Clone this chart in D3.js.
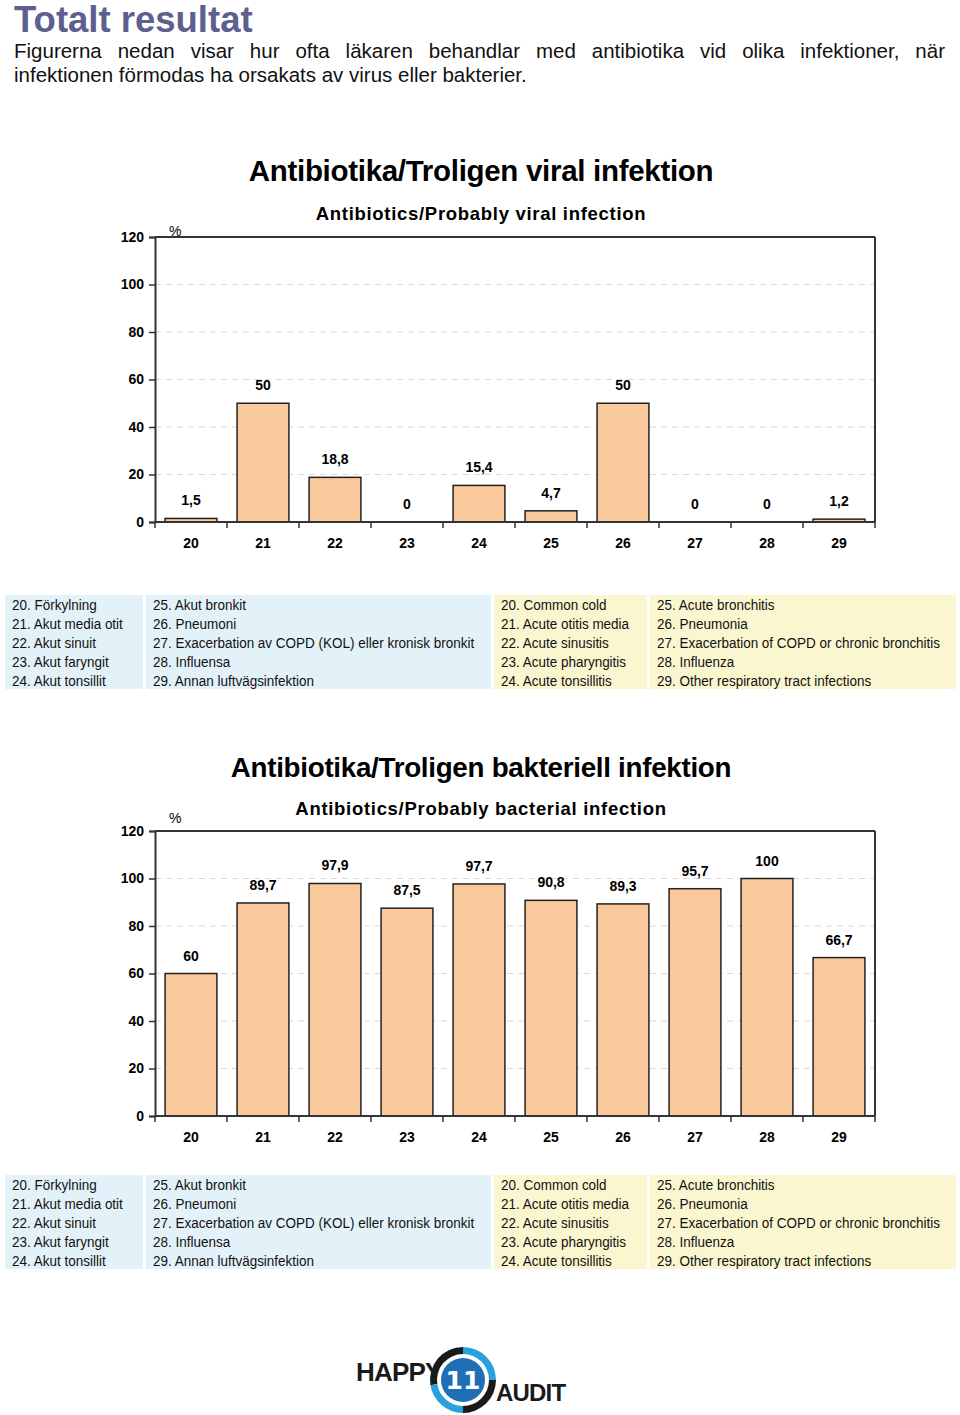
<!DOCTYPE html>
<html><head><meta charset="utf-8">
<script src="https://cdn.jsdelivr.net/npm/d3@7"></script>
<style>
body{margin:0;background:#fff;}
svg{display:block;}
</style></head>
<body>
<script>
const categories = ["20","21","22","23","24","25","26","27","28","29"];
const viralValues = [1.5, 50, 18.8, 0, 15.4, 4.7, 50, 0, 0, 1.2];
const bacterialValues = [60, 89.7, 97.9, 87.5, 97.7, 90.8, 89.3, 95.7, 100, 66.7];
const yTicks = [0, 20, 40, 60, 80, 100, 120];
const legendSv1 = ["20. Förkylning","21. Akut media otit","22. Akut sinuit","23. Akut faryngit","24. Akut tonsillit"];
const legendSv2 = ["25. Akut bronkit","26. Pneumoni","27. Exacerbation av COPD (KOL) eller kronisk bronkit","28. Influensa","29. Annan luftvägsinfektion"];
const legendEn1 = ["20. Common cold","21. Acute otitis media","22. Acute sinusitis","23. Acute pharyngitis","24. Acute tonsillitis"];
const legendEn2 = ["25. Acute bronchitis","26. Pneumonia","27. Exacerbation of COPD or chronic bronchitis","28. Influenza","29. Other respiratory tract infections"];

const W = 960, H = 1415;
const svg = d3.select("body").append("svg").attr("width", W).attr("height", H);
const fmt = v => String(v).replace(".", ",");
const FONT = "Liberation Sans, Arial, sans-serif";

// Header
svg.append("text").attr("x", 14).attr("y", 32).text("Totalt resultat")
  .attr("font-family", FONT).attr("font-weight", "bold")
  .attr("font-size", 36.5).attr("fill", "#5d5f8e");
const line1 = svg.append("text").attr("x", 14).attr("y", 58).attr("font-family", FONT)
  .attr("font-size", 20.5).attr("fill", "#111")
  .text("Figurerna nedan visar hur ofta läkaren behandlar med antibiotika vid olika infektioner, när");
{
  const natural = line1.node().getComputedTextLength();
  const nSpaces = line1.text().split(" ").length - 1;
  line1.attr("word-spacing", (931 - natural) / nSpaces);
}
svg.append("text").attr("x", 14).attr("y", 82).attr("font-family", FONT)
  .attr("font-size", 20.5).attr("fill", "#111")
  .text("infektionen förmodas ha orsakats av virus eller bakterier.");

function drawChart(cfg) {
  const left = 155, right = 875, top = cfg.top, bottom = cfg.top + 285;
  const x = d3.scaleBand().domain(categories).range([left, right]).paddingInner(0.28).paddingOuter(0.14);
  const xb = d3.scaleBand().domain(categories).range([left, right]);
  const y = d3.scaleLinear().domain([0, 120]).range([bottom, top]);
  const g = svg.append("g");

  g.append("text").attr("x", 481).attr("y", cfg.titleY).attr("text-anchor", "middle")
    .attr("font-family", FONT).attr("font-weight", "bold")
    .attr("font-size", cfg.titleSize).attr("fill", "#000").attr("letter-spacing", -0.3).text(cfg.title);
  g.append("text").attr("x", 481).attr("y", cfg.subY).attr("text-anchor", "middle")
    .attr("font-family", FONT).attr("font-weight", "bold")
    .attr("font-size", 18.5).attr("fill", "#000").attr("letter-spacing", 0.7).text(cfg.sub);

  // gridlines
  g.selectAll("line.grid").data(yTicks.filter(t => t > 0 && t < 120)).join("line")
    .attr("x1", left).attr("x2", right).attr("y1", d => y(d)).attr("y2", d => y(d))
    .attr("stroke", "#d8d8d8").attr("stroke-width", 1).attr("stroke-dasharray", "6,5");

  // frame top and right
  g.append("line").attr("x1", left).attr("x2", right).attr("y1", top).attr("y2", top)
    .attr("stroke", "#333").attr("stroke-width", 2);
  g.append("line").attr("x1", right).attr("x2", right).attr("y1", top).attr("y2", bottom)
    .attr("stroke", "#333").attr("stroke-width", 2);

  // bars
  g.selectAll("rect.bar").data(cfg.values).join("rect")
    .attr("x", (d, i) => x(categories[i])).attr("width", x.bandwidth())
    .attr("y", d => y(d)).attr("height", d => bottom - y(d))
    .attr("fill", "#f9c99c").attr("stroke", "#222").attr("stroke-width", 1.5);

  // value labels
  g.selectAll("text.val").data(cfg.values).join("text")
    .attr("x", (d, i) => xb(categories[i]) + xb.bandwidth() / 2)
    .attr("y", d => y(d) - 13).attr("text-anchor", "middle")
    .attr("font-family", FONT).attr("font-weight", "bold")
    .attr("font-size", 14).text(d => fmt(d));

  // y axis
  const ya = g.append("g").attr("transform", `translate(${left},0)`)
    .call(d3.axisLeft(y).tickValues(yTicks).tickSize(6).tickPadding(5));
  ya.select(".domain").attr("stroke", "#333").attr("stroke-width", 2);
  ya.selectAll(".tick line").attr("stroke", "#333").attr("stroke-width", 1.5);
  ya.selectAll(".tick text").attr("font-family", FONT)
    .attr("font-weight", "bold").attr("font-size", 14).attr("fill", "#000");

  // x axis
  const xa = g.append("g").attr("transform", `translate(0,${bottom})`)
    .call(d3.axisBottom(xb).tickSize(0).tickPadding(16));
  xa.select(".domain").attr("stroke", "#333").attr("stroke-width", 2)
    .attr("d", `M${left},0H${right}`);
  xa.selectAll(".tick text").attr("font-family", FONT)
    .attr("font-weight", "bold").attr("font-size", 14).attr("fill", "#000");
  const bounds = categories.map(c => xb(c)).concat([right]);
  xa.selectAll("line.bt").data(bounds).join("line")
    .attr("x1", d => d).attr("x2", d => d).attr("y1", 0).attr("y2", 6)
    .attr("stroke", "#333").attr("stroke-width", 1.5);

  g.append("text").attr("x", 169).attr("y", cfg.pctY).text("%")
    .attr("font-family", FONT).attr("font-size", 14).attr("fill", "#000");

  // legend
  const ly = cfg.legendY;
  const panels = [
    {x: 5, w: 138, fill: "#e3f1f8", items: legendSv1},
    {x: 146, w: 345, fill: "#e3f1f8", items: legendSv2},
    {x: 494, w: 153, fill: "#faf6cf", items: legendEn1},
    {x: 650, w: 306, fill: "#faf6cf", items: legendEn2}
  ];
  panels.forEach(p => {
    g.append("rect").attr("x", p.x).attr("y", ly).attr("width", p.w).attr("height", 94).attr("fill", p.fill);
    const tg = g.append("g").attr("transform", `translate(${p.x + 7},0) scale(0.87,1)`);
    tg.selectAll(null).data(p.items).join("text")
      .attr("x", 0).attr("y", (d, i) => ly + 15 + i * 19)
      .attr("font-family", FONT)
      .attr("font-size", 15.5).attr("fill", "#111").text(d => d);
  });
}

drawChart({top: 237, title: "Antibiotika/Troligen viral infektion", titleY: 181, titleSize: 29.5,
  sub: "Antibiotics/Probably viral infection", subY: 220, pctY: 236, values: viralValues, legendY: 595});
drawChart({top: 831, title: "Antibiotika/Troligen bakteriell infektion", titleY: 777, titleSize: 27.8,
  sub: "Antibiotics/Probably bacterial infection", subY: 815, pctY: 823, values: bacterialValues, legendY: 1175});

// Logo
const logo = svg.append("g");
const cx = 463, cy = 1380;
const arc = d3.arc();
const ringSegs = [
  {s: -Math.PI * 0.55, e: 0, c: "#1a1a1a"},
  {s: 0, e: Math.PI * 0.5, c: "#2aa0dc"},
  {s: Math.PI * 0.5, e: Math.PI * 1.0, c: "#1a1a1a"},
  {s: Math.PI * 1.0, e: Math.PI * 1.45, c: "#2aa0dc"}
];
ringSegs.forEach(r => {
  logo.append("path").attr("transform", `translate(${cx},${cy})`)
    .attr("d", arc({innerRadius: 26, outerRadius: 33, startAngle: r.s, endAngle: r.e}))
    .attr("fill", r.c);
});
logo.append("circle").attr("cx", cx).attr("cy", cy).attr("r", 22).attr("fill", "#1f6fb5");
logo.append("text").attr("x", cx).attr("y", cy + 9).attr("text-anchor", "middle")
  .attr("font-family", "DejaVu Sans, sans-serif").attr("font-weight", "bold")
  .attr("font-size", 25).attr("fill", "#fff").text("11");
logo.append("text").attr("x", 356).attr("y", 1381).text("HAPPY")
  .attr("font-family", FONT).attr("font-weight", "bold")
  .attr("font-size", 26).attr("fill", "#1a1a1a").attr("letter-spacing", -0.8);
logo.append("text").attr("x", 496).attr("y", 1401).text("AUDIT")
  .attr("font-family", FONT).attr("font-weight", "bold")
  .attr("font-size", 24).attr("fill", "#1a1a1a").attr("letter-spacing", -0.8);
</script>
</body></html>
